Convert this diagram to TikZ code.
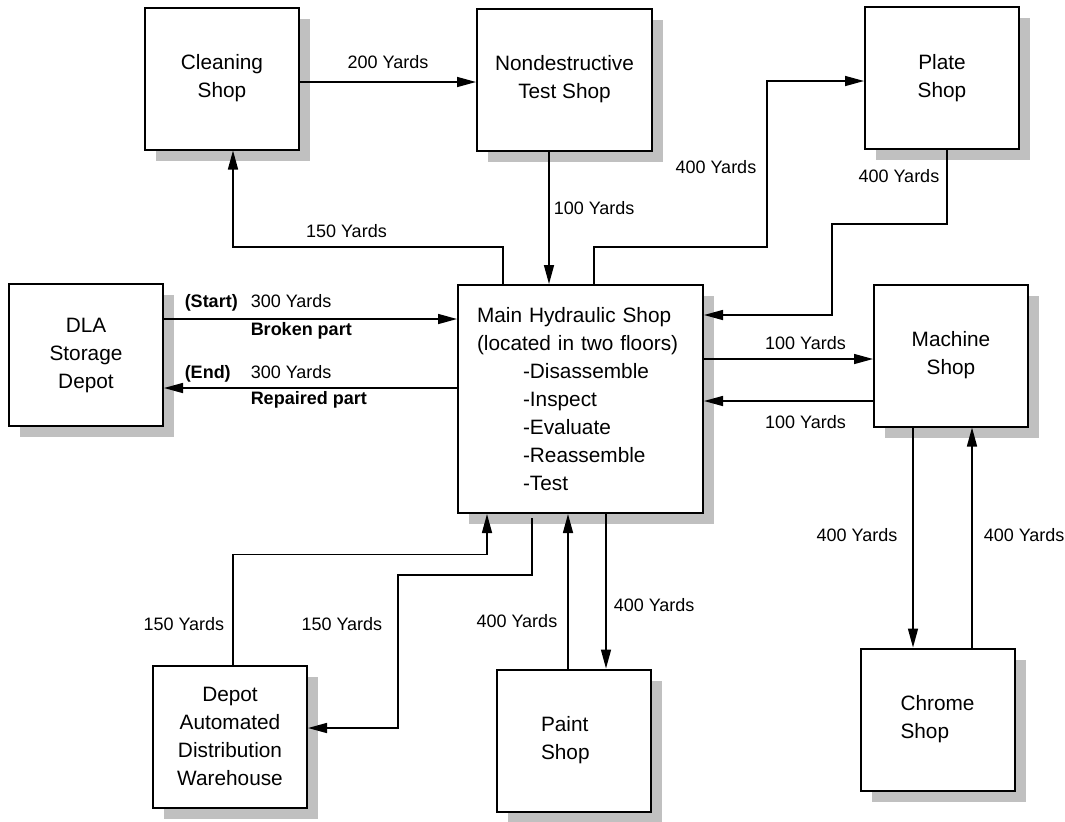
\documentclass[tikz,border=0pt]{standalone}
\usepackage{fontspec}
\setmainfont{Liberation Sans}
\usepackage{tikz}
\usetikzlibrary{arrows.meta,shadows}
\definecolor{shadowGray}{RGB}{192,192,192}
\tikzset{
	%Define standard arrow tip
	>={Triangle[length=9.5pt,width=5pt]},
	%Define style for boxes
	box/.style={
		rectangle,
		draw=black, line width=1pt,
		fill=white,
		align=center,
		minimum width=77pt,
		minimum height=71pt,
		font=\fontsize{10.4}{14}\selectfont,
		drop shadow={shadow xshift=5.5pt, shadow yshift=-5.5pt, fill=shadowGray, opacity=1}},
	% Define arrow style
	edgeStyle/.style={
		->,
		line width=0.75pt},
	% Define label style
	lblStyle/.style={
		inner sep=0pt,
		font=\fontsize{9}{11}\selectfont}
}

\begin{document}
\begin{tikzpicture}[x=0.5pt,y=-0.5pt]
	\useasboundingbox (0,0) rectangle (1065,821);
	
	%nodes
	\node[box] (clean) at (222,78.5) {Cleaning\\Shop};
	\node[box, minimum width=87.5pt] (ndt) at (564.5,79.5) {Nondestructive\\Test Shop};
	\node[box] (plate) at (942,78) {Plate\\Shop};
	\node[box] (dla) at (86,355) {DLA\\Storage\\Depot};
	\node[box, align=left, text width=103.5pt, inner xsep=9.5pt, minimum height=114pt] (main) at (580.5,399) {
		Main Hydraulic Shop\\
		(located in two floors)\\
		\hspace*{23pt}-Disassemble\\
		\hspace*{23pt}-Inspect\\
		\hspace*{23pt}-Evaluate\\
		\hspace*{23pt}-Reassemble\\
		\hspace*{23pt}-Test};
	\node[box] (machine) at (951,355.5) {Machine\\Shop};
	\node[box] (adw) at (230,736.5) {Depot\\Automated\\Distribution\\Warehouse};
	\node[box, align=left] (paint) at (574,740.5) {\makebox[33pt][l]{Paint}\\\makebox[33pt][l]{Shop}};
	\node[box, align=left] (chrome) at (937.5,719.5) {Chrome\\Shop};
	
	%connectors, top row
	\draw[edgeStyle] ([yshift=-1.75pt]clean.east) -- ([yshift=-1.75pt]clean.east -| ndt.west) node[lblStyle, midway, yshift=10pt] (l200) {200 Yards};
	\draw[edgeStyle] ([xshift=-38.75pt]main.north) -- ++(0,-37) -| ([xshift=5.5pt]clean.south) node[lblStyle, pos=0.29, yshift=8pt] (l150a) {150 Yards};
	\draw[edgeStyle] ([xshift=-7.75pt]ndt.south) -- ([xshift=-7.75pt]ndt.south |- main.north) node[lblStyle, pos=0.43, anchor=west, xshift=2pt] (l100a) {100 Yards};
	\draw[edgeStyle] ([xshift=6.75pt]main.north) -- ++(0,-37) -- ++(173,0) |- ([yshift=-1.5pt]plate.west) node[lblStyle, pos=0.24, anchor=east, xshift=-5pt] (l400a) {400 Yards};
	\draw[edgeStyle] ([xshift=2.5pt]plate.south) |- ++(-115,74) node[lblStyle, pos=0.176, anchor=east, xshift=-3.5pt] (l400b) {400 Yards} |- ([yshift=42pt]main.east);
	
	%connectors, depot
	\draw[edgeStyle] ([yshift=18pt]dla.east) -- ([yshift=18pt]dla.east -| main.west)
		node[lblStyle, pos=0, anchor=west, xshift=10pt, yshift=8pt] (lStart) {\makebox[33pt][l]{\textbf{(Start)}}300 Yards}
		node[lblStyle, pos=0, anchor=west, xshift=43pt, yshift=-6pt] (lBroken) {\textbf{Broken part}};
	\draw[edgeStyle] ([yshift=5.5pt]main.west) -- ([yshift=5.5pt]main.west -| dla.east)
		node[lblStyle, pos=1, anchor=west, xshift=10pt, yshift=7pt] (lEnd) {\makebox[33pt][l]{\textbf{(End)}}300 Yards}
		node[lblStyle, pos=1, anchor=west, xshift=43pt, yshift=-6pt] (lRepaired) {\textbf{Repaired part}};
	
	%connectors, right side
	\draw[edgeStyle] ([yshift=20pt]main.east) -- ([yshift=20pt]main.east -| machine.west) node[lblStyle, pos=0.6, yshift=8pt] (l100b) {100 Yards};
	\draw[edgeStyle] ([yshift=-1pt]main.east -| machine.west) -- ([yshift=-1pt]main.east) node[lblStyle, pos=0.4, yshift=-10.5pt] (l100c) {100 Yards};
	\draw[edgeStyle] ([xshift=-19pt]machine.south) -- ([xshift=-19pt]machine.south |- chrome.north) node[lblStyle, pos=0.49, xshift=-28pt] (l400c) {400 Yards};
	\draw[edgeStyle] ([xshift=10.5pt]machine.south |- chrome.north) -- ([xshift=10.5pt]machine.south) node[lblStyle, pos=0.51, anchor=west, xshift=5.5pt] (l400d) {400 Yards};
	
	%connectors, bottom row
	\draw[edgeStyle] ([xshift=12.75pt]main.south) -- ([xshift=12.75pt]main.south |- paint.north) node[lblStyle, pos=0.59, anchor=west, xshift=3.5pt] (l400e) {400 Yards};
	\draw[edgeStyle] ([xshift=-6.25pt]main.south |- paint.north) -- ([xshift=-6.25pt]main.south) node[lblStyle, pos=0.31, anchor=east, xshift=-5pt] (l400f) {400 Yards};
	\draw[edgeStyle] ([xshift=1.5pt]adw.north) -- ++(0,-110) node[lblStyle, pos=0.37, anchor=east, xshift=-4pt] (l150b) {150 Yards} -| ([xshift=-46.75pt]main.south);
	\draw[edgeStyle, shorten <=2pt] ([xshift=-24.25pt]main.south) |- ++(-134,61) |- ([yshift=4.25pt]adw.east) node[lblStyle, pos=0.16, anchor=east, xshift=-7.5pt] (l150c) {150 Yards};
	
\end{tikzpicture}
\end{document}
